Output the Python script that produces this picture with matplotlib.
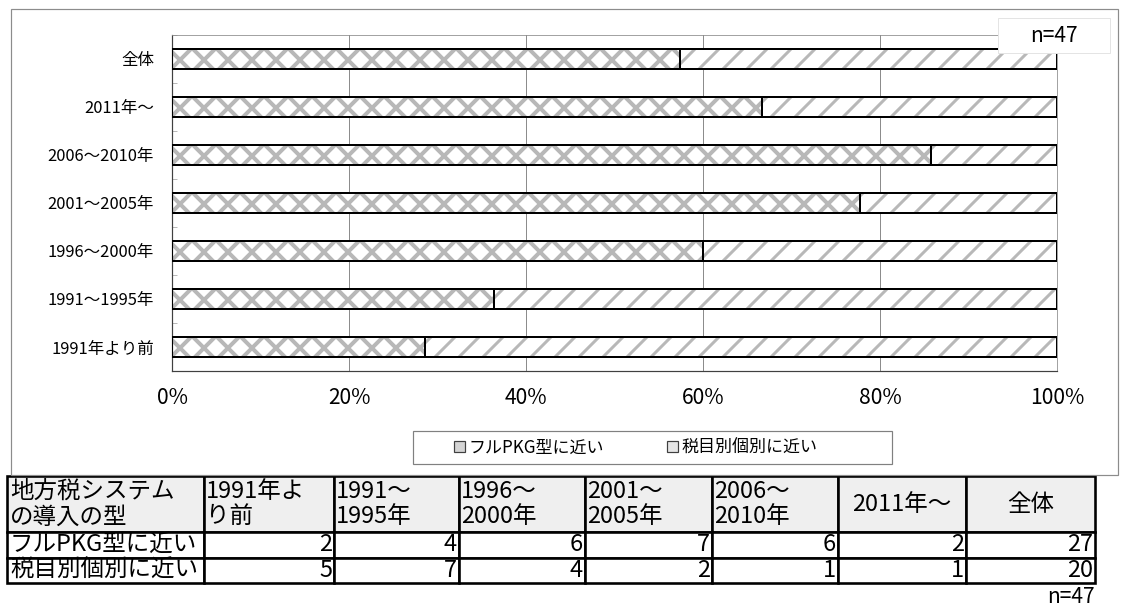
import matplotlib
matplotlib.use("Agg")
import matplotlib.pyplot as plt
import matplotlib.patches as mpatches
import numpy as np

plt.rcParams['font.family'] = ['Noto Sans CJK JP', 'DejaVu Sans']

# data
categories = ['1991年より前', '1991～1995年', '1996～2000年', '2001～2005年',
              '2006～2010年', '2011年～', '全体']
table_headers = ['1991年よ\nり前', '1991～\n1995年', '1996～\n2000年', '2001～\n2005年',
                 '2006～\n2010年', '2011年～', '全体']
series_names = ['フルPKG型に近い', '税目別個別に近い']
full_pkg = [2, 4, 6, 7, 6, 2, 27]
by_tax = [5, 7, 4, 2, 1, 1, 20]
x_ticks = [0, 0.2, 0.4, 0.6, 0.8, 1.0]
x_ticklabels = ['0%', '20%', '40%', '60%', '80%', '100%']

full_pkg = np.array(full_pkg, dtype=float)
by_tax = np.array(by_tax, dtype=float)
total = full_pkg + by_tax
pct_full = full_pkg / total
pct_tax = by_tax / total

W, H, DPI = 1121, 611, 72
fig = plt.figure(figsize=(W / DPI, H / DPI), dpi=DPI)

# outer chart frame
fig.add_artist(mpatches.Rectangle((11 / W, 1 - 475 / H), (1118 - 11) / W, (475 - 9) / H,
                                  transform=fig.transFigure, fill=False,
                                  edgecolor='#8c8c8c', linewidth=1.2))

ax = fig.add_axes([172 / W, 1 - 371 / H, (1057 - 172) / W, (371 - 35) / H])
y = np.arange(len(categories))
bh = 0.42
hatch_gray = '#b8b8b8'

b1 = ax.barh(y, pct_full, height=bh, color='white', edgecolor=hatch_gray,
             hatch='x', linewidth=0, zorder=2)
b2 = ax.barh(y, pct_tax, left=pct_full, height=bh, color='white', edgecolor=hatch_gray,
             hatch='/', linewidth=0, zorder=2)
for p in b1:
    if hasattr(p, 'set_hatch_linewidth'):
        p.set_hatch_linewidth(4.0)
for p in b2:
    if hasattr(p, 'set_hatch_linewidth'):
        p.set_hatch_linewidth(3.0)
ax.barh(y, pct_full, height=bh, facecolor='none', edgecolor='black', linewidth=2, zorder=3)
ax.barh(y, pct_tax, left=pct_full, height=bh, facecolor='none', edgecolor='black',
        linewidth=2, zorder=3)

ax.set_xlim(0, 1)
ax.set_ylim(-0.5, len(categories) - 0.5)
ax.set_xticks(x_ticks)
ax.set_xticklabels(x_ticklabels, fontsize=21)
ax.set_yticks(y)
ax.set_yticklabels(categories, fontsize=16.5)
ax.set_yticks(np.arange(-0.5, len(categories), 1), minor=True)
ax.tick_params(axis='x', length=0, pad=16)
ax.tick_params(axis='y', which='major', length=0, pad=18)
ax.tick_params(axis='y', which='minor', direction='in', length=5, color='#8c8c8c')
ax.grid(axis='x', color='#8c8c8c', linewidth=1)
ax.set_axisbelow(True)
for s in ['top', 'right']:
    ax.spines[s].set_color('#8c8c8c')
for s in ['left', 'bottom']:
    ax.spines[s].set_color('#404040')
    ax.spines[s].set_linewidth(1.2)

# legend (box drawn separately so the inner padding can match)
fig.add_artist(mpatches.Rectangle((413 / W, 1 - 464 / H), (892 - 413) / W, 33 / H,
                                  transform=fig.transFigure, facecolor='white',
                                  edgecolor='#808080', linewidth=1.2))
handles = [mpatches.Patch(facecolor='#d4d4d4', edgecolor='#404040', linewidth=1.2),
           mpatches.Patch(facecolor='#e6e6e6', edgecolor='#404040', linewidth=1.2)]
leg = fig.legend(handles, series_names, loc='center',
                 bbox_to_anchor=(636 / W, 1 - 447.5 / H), ncol=2, fontsize=17,
                 frameon=False, handlelength=0.65, handleheight=0.65, handletextpad=0.2,
                 columnspacing=3.7, borderpad=0, borderaxespad=0)

# n=47 box at top right
fig.add_artist(mpatches.Rectangle((998 / W, 1 - 53 / H), 112 / W, 35 / H,
                                  transform=fig.transFigure, facecolor='white',
                                  edgecolor='#e4e4e4', linewidth=1, zorder=5))
fig.text(1054 / W, 1 - 36 / H, 'n=47', fontsize=21, ha='center', va='center', zorder=6)

# table
tax = fig.add_axes([0, 0, 1, 1])
tax.set_axis_off()
tax.set_xlim(0, 1)
tax.set_ylim(0, 1)
cell_text = [['地方税システム\nの導入の型'] + table_headers,
             [series_names[0]] + [str(int(v)) for v in full_pkg],
             [series_names[1]] + [str(int(v)) for v in by_tax]]
col_w = [197, 130, 125, 126, 127, 126, 128, 129]
tbl = tax.table(cellText=cell_text, colWidths=[c / sum(col_w) for c in col_w],
                bbox=[7 / W, 1 - 583 / H, (1095 - 7) / W, (583 - 476) / H])
tbl.auto_set_font_size(False)
fs = 23.5
tbl.set_fontsize(fs)
for (r, c), cell in tbl.get_celld().items():
    cell.set_linewidth(2.6)
    cell.set_edgecolor('black')
    cell.PAD = 0.015
    txt = cell.get_text()
    txt.set_fontsize(fs)
    if r == 0:
        cell.set_height(2.2)
        cell.set_facecolor('#efefef')
        txt.set_linespacing(1.15)
        if c in (6, 7):
            cell._loc = 'center'
            txt.set_ha('center')
        else:
            cell._loc = 'left'
            txt.set_ha('left')
    else:
        cell.set_height(1.0)
        if c == 0:
            cell._loc = 'left'
            txt.set_ha('left')
            txt.set_clip_path(cell)
        else:
            cell._loc = 'right'
            txt.set_ha('right')

fig.text(1095 / W, 1 - 597 / H, 'n=47', fontsize=21, ha='right', va='center')

fig.savefig('out.png', dpi=DPI)
